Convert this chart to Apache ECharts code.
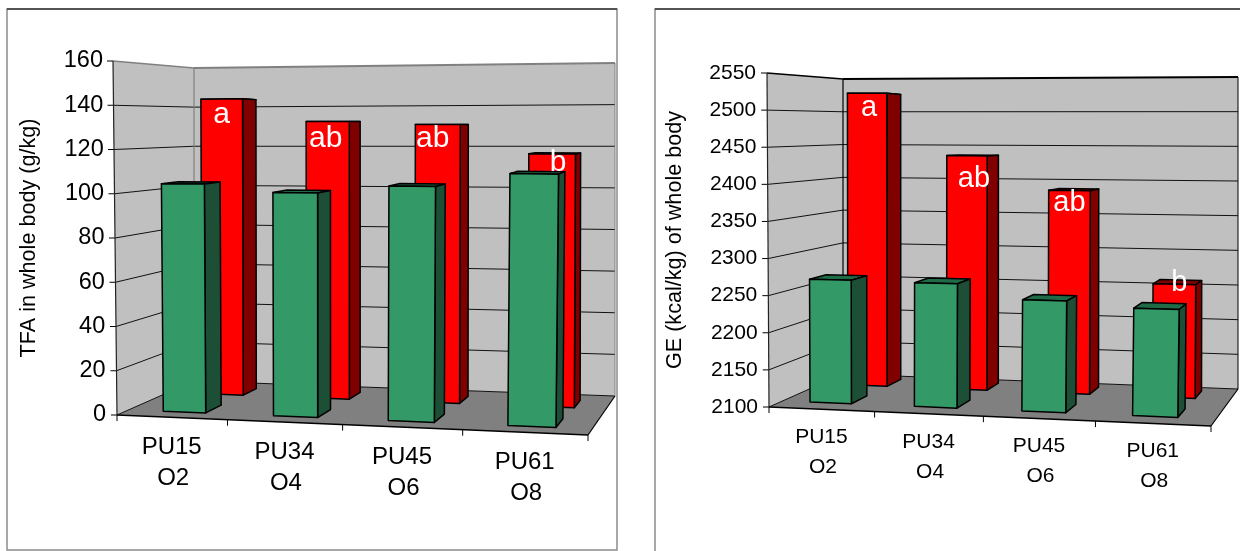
<!DOCTYPE html>
<html>
<head>
<meta charset="utf-8">
<style>html,body{margin:0;padding:0;background:#fff}#main{width:1240px;height:551px}</style>
<script src="https://cdn.jsdelivr.net/npm/echarts@6/dist/echarts.min.js"></script>
</head>
<body>
<div id="main"></div>
<script>
// Whole-body composition by diet group
const categories = ['PU15\nO2', 'PU34\nO4', 'PU45\nO6', 'PU61\nO8'];
const groupLabels = ['a', 'ab', 'ab', 'b'];   // significance letters on the rear row

const tfaGreen = [104, 100.5, 104, 110];
const tfaRed = [143, 132, 130.5, 117];
const tfaTicks = [0, 20, 40, 60, 80, 100, 120, 140, 160];

const geGreen = [2268, 2267, 2248, 2241];
const geRed = [2525, 2435, 2387, 2258];
const geTicks = [2100, 2150, 2200, 2250, 2300, 2350, 2400, 2450, 2500, 2550];

const FONT = '"Liberation Sans", Arial, sans-serif';
const GREEN = { front: '#339966', side: '#1c4f36', top: '#1f6b45' };
const RED = { front: '#ff0000', side: '#800000', top: '#800000' };

// Maps the unit square onto a quadrilateral (front-left, front-right, back-right, back-left)
function quadMap(q) {
  const [p0, p1, p2, p3] = q;
  const dx1 = p1[0] - p2[0], dx2 = p3[0] - p2[0], sx = p0[0] - p1[0] + p2[0] - p3[0];
  const dy1 = p1[1] - p2[1], dy2 = p3[1] - p2[1], sy = p0[1] - p1[1] + p2[1] - p3[1];
  const den = dx1 * dy2 - dx2 * dy1;
  const g = (sx * dy2 - dx2 * sy) / den, h = (dx1 * sy - sx * dy1) / den;
  const a = p1[0] - p0[0] + g * p1[0], b = p3[0] - p0[0] + h * p3[0], c = p0[0];
  const d = p1[1] - p0[1] + g * p1[1], e = p3[1] - p0[1] + h * p3[1], f = p0[1];
  return (u, v) => {
    const w = g * u + h * v + 1;
    return [(a * u + b * v + c) / w, (d * u + e * v + f) / w];
  };
}

const panels = [
  {
    ticks: tfaTicks, green: tfaGreen, red: tfaRed,
    title: 'TFA in whole body (g/kg)',
    frame: [7, 9, 610, 541],
    floor: [[117, 415], [588, 435], [615, 396], [194, 381]],
    ceil: [[113, 61], [593, 59], [615, 63], [194, 68]],
    span: { greenU: [0.32, 0.71], greenD: [0.14, 0.35], redU: [0.33, 0.73], redD: [0.64, 0.84] },
    edge: '#808080', fontSize: 23.5, catSize: 24, nameSize: 21.6, nameGap: 77, labelSize: 30, slant: 3, lineGap: 31, labelDrop: 30, labelMargin: 11,
    letterNudge: [[0, 16], [-2, 17], [-5, 14], [6, 9]]
  },
  {
    ticks: geTicks, green: geGreen, red: geRed,
    title: 'GE (kcal/kg) of whole body',
    frame: [655, 9, 620, 560],
    floor: [[769, 407], [1211, 426], [1238, 389], [843, 374]],
    ceil: [[767, 73], [1217, 73], [1238, 77], [843, 79]],
    span: { greenU: [0.265, 0.665], greenD: [0.17, 0.39], redU: [0.275, 0.675], redD: [0.68, 0.9] },
    edge: '#000000', fontSize: 21, catSize: 21, nameSize: 21.6, nameGap: 83, labelSize: 29, slant: 2, lineGap: 30, labelDrop: 28, labelMargin: 11,
    letterNudge: [[2, 15], [7, 23], [0, 13], [5, -1]]
  }
];

const grids = [], xAxes = [], yAxes = [], seriesList = [];

panels.forEach((p, idx) => {
  const lo = p.ticks[0], hi = p.ticks[p.ticks.length - 1], n = categories.length;
  const bottom = quadMap(p.floor);
  const gridLeft = p.floor[0][0], gridTop = p.ceil[0][1], gridH = p.floor[0][1] - p.ceil[0][1];

  // Vertical run of the box at each floor corner, blended across the floor
  const rise = p.floor.map((f, i) => [p.ceil[i][0] - f[0], p.ceil[i][1] - f[1]]);

  grids.push({ left: gridLeft, top: gridTop, width: p.floor[1][0] - gridLeft, height: gridH });
  xAxes.push({ gridIndex: idx, type: 'category', data: categories, show: false });

  const rich = {};
  p.ticks.forEach((t, i) => {
    const pad = Math.round(p.slant * i / (p.ticks.length - 1) * 10) / 10;
    rich['t' + i] = { fontFamily: FONT, fontSize: p.fontSize, color: '#000', padding: [0, pad, 0, 0] };
  });
  yAxes.push({
    gridIndex: idx, type: 'value', min: lo, max: hi, interval: p.ticks[1] - p.ticks[0],
    axisLine: { show: false }, axisTick: { show: false }, splitLine: { show: false },
    axisLabel: {
      margin: p.labelMargin,
      formatter: v => '{t' + p.ticks.indexOf(v) + '|' + v + '}',
      rich
    },
    name: p.title, nameLocation: 'middle', nameRotate: 90, nameGap: p.nameGap,
    nameTextStyle: { fontFamily: FONT, fontSize: p.nameSize, color: '#000' }
  });

  // Scene point from category position u, depth d (0 front, 1 back) and height fraction t
  const scene = (u, d, t) => {
    const s = u / n;
    const b = bottom(s, d);
    const wt = [(1 - s) * (1 - d), s * (1 - d), s * d, (1 - s) * d];
    const rx = wt.reduce((acc, w, i) => acc + w * rise[i][0], 0);
    const ry = wt.reduce((acc, w, i) => acc + w * rise[i][1], 0);
    return [b[0] + rx * t, b[1] + ry * t];
  };
  const heightOf = (api, v) => {
    const y0 = api.coord([0, lo])[1], y1 = api.coord([0, hi])[1];
    return (y0 - api.coord([0, v])[1]) / (y0 - y1);
  };
  const poly = (points, fill, stroke, width) => ({
    type: 'polygon', shape: { points },
    style: { fill, stroke: stroke || 'none', lineWidth: width === undefined ? 1.4 : width, lineJoin: 'round' }
  });
  const line = (a, b, stroke, width) => ({
    type: 'line', shape: { x1: a[0], y1: a[1], x2: b[0], y2: b[1] },
    style: { stroke, lineWidth: width }
  });

  // Walls, floor, gridlines, edges and ticks
  seriesList.push({
    type: 'custom', xAxisIndex: idx, yAxisIndex: idx, clip: false, silent: true,
    data: [[0, lo]],
    renderItem: (params, api) => {
      const c = [
        poly([scene(0, 0, 0), scene(0, 1, 0), scene(0, 1, 1), scene(0, 0, 1)], '#c0c0c0'),
        poly([scene(0, 1, 0), scene(n, 1, 0), scene(n, 1, 1), scene(0, 1, 1)], '#c0c0c0'),
        poly([scene(0, 0, 0), scene(n, 0, 0), scene(n, 1, 0), scene(0, 1, 0)], '#808080')
      ];
      p.ticks.forEach(v => {
        const t = heightOf(api, v);
        if (v !== hi) {
          c.push(line(scene(0, 0, t), scene(0, 1, t), '#111', 1));
          c.push(line(scene(0, 1, t), scene(n, 1, t), '#111', 1));
        }
        const s = scene(0, 0, t);
        c.push(line([s[0] - 6, s[1]], s, '#000', 1));
      });
      c.push(line(scene(0, 0, 1), scene(0, 1, 1), p.edge, 1.6));
      c.push(line(scene(0, 1, 1), scene(n, 1, 1), p.edge, 1.8));
      c.push(line(scene(0, 1, 1), scene(0, 1, 0), p.edge, 1.2));
      c.push(line(scene(n, 1, 1), scene(n, 1, 0), p.edge, 1));
      c.push(line(scene(0, 0, 1), scene(0, 0, 0), '#222', 1.2));
      c.push(line(scene(0, 0, 0), scene(n, 0, 0), '#000', 1.4));
      c.push(line(scene(n, 0, 0), scene(n, 1, 0), '#000', 1.2));
      for (let i = 0; i <= n; i++) {
        const s = scene(i, 0, 0);
        c.push(line(s, [s[0], s[1] + 6], '#000', 1));
      }
      return { type: 'group', children: c };
    }
  });

  const box = (api, i, t, us, ds, col) => {
    const u0 = i + us[0], u1 = i + us[1], d0 = ds[0], d1 = ds[1];
    return [
      poly([scene(u0, d0, t), scene(u1, d0, t), scene(u1, d1, t), scene(u0, d1, t)], col.top, '#000', 1.5),
      poly([scene(u1, d0, 0), scene(u1, d1, 0), scene(u1, d1, t), scene(u1, d0, t)], col.side, '#000', 1.5),
      poly([scene(u0, d0, 0), scene(u1, d0, 0), scene(u1, d0, t), scene(u0, d0, t)], col.front, '#000', 1.5)
    ];
  };

  // Rear row
  seriesList.push({
    type: 'custom', name: 'rear', xAxisIndex: idx, yAxisIndex: idx, clip: false, silent: true,
    data: p.red.map((v, i) => [i, v]),
    renderItem: (params, api) => {
      const i = api.value(0), t = heightOf(api, api.value(1));
      return { type: 'group', children: box(api, i, t, p.span.redU, p.span.redD, RED) };
    }
  });

  // Front row
  seriesList.push({
    type: 'custom', name: 'front', xAxisIndex: idx, yAxisIndex: idx, clip: false, silent: true,
    data: p.green.map((v, i) => [i, v]),
    renderItem: (params, api) => {
      const i = api.value(0), t = heightOf(api, api.value(1));
      return { type: 'group', children: box(api, i, t, p.span.greenU, p.span.greenD, GREEN) };
    }
  });

  // Significance letters sit over both rows
  seriesList.push({
    type: 'custom', xAxisIndex: idx, yAxisIndex: idx, clip: false, silent: true,
    data: p.red.map((v, i) => [i, v]),
    renderItem: (params, api) => {
      const i = api.value(0), t = heightOf(api, api.value(1));
      const us = p.span.redU, s = scene(i + (us[0] + us[1]) / 2, p.span.redD[0], t);
      const nudge = p.letterNudge[i];
      return {
        type: 'text',
        style: {
          x: s[0] + nudge[0], y: s[1] + nudge[1], text: groupLabels[i], fill: '#fff',
          font: p.labelSize + 'px ' + FONT, align: 'center', verticalAlign: 'middle'
        }
      };
    }
  });

  // Category names follow the sloped front edge of the floor
  seriesList.push({
    type: 'custom', xAxisIndex: idx, yAxisIndex: idx, clip: false, silent: true,
    data: categories.map((c, i) => [i, lo]),
    renderItem: (params, api) => {
      const i = api.value(0), s = scene(i + 0.5, 0, 0);
      const parts = categories[i].split('\n');
      return {
        type: 'group',
        children: parts.map((text, k) => ({
          type: 'text',
          style: {
            x: s[0] + k * 1.5, y: s[1] + p.labelDrop + k * p.lineGap, text, fill: '#000',
            font: p.catSize + 'px ' + FONT, align: 'center', verticalAlign: 'middle'
          }
        }))
      };
    }
  });
});

const frames = panels.flatMap(p => {
  const [x, y, w, h] = p.frame;
  return [
    { type: 'rect', silent: true, shape: { x, y, width: w, height: h }, style: { fill: '#fff', stroke: '#8c8c8c', lineWidth: 1.5 }, z: -1 },
    { type: 'line', silent: true, shape: { x1: x, y1: y, x2: x + w, y2: y }, style: { stroke: '#000', lineWidth: 1 }, z: -1 }
  ];
});

const chart = echarts.init(document.getElementById('main'), null, { renderer: 'canvas' });
chart.setOption({
  animation: false,
  backgroundColor: '#fff',
  graphic: { elements: frames },
  grid: grids, xAxis: xAxes, yAxis: yAxes, series: seriesList
});
</script>
</body>
</html>
